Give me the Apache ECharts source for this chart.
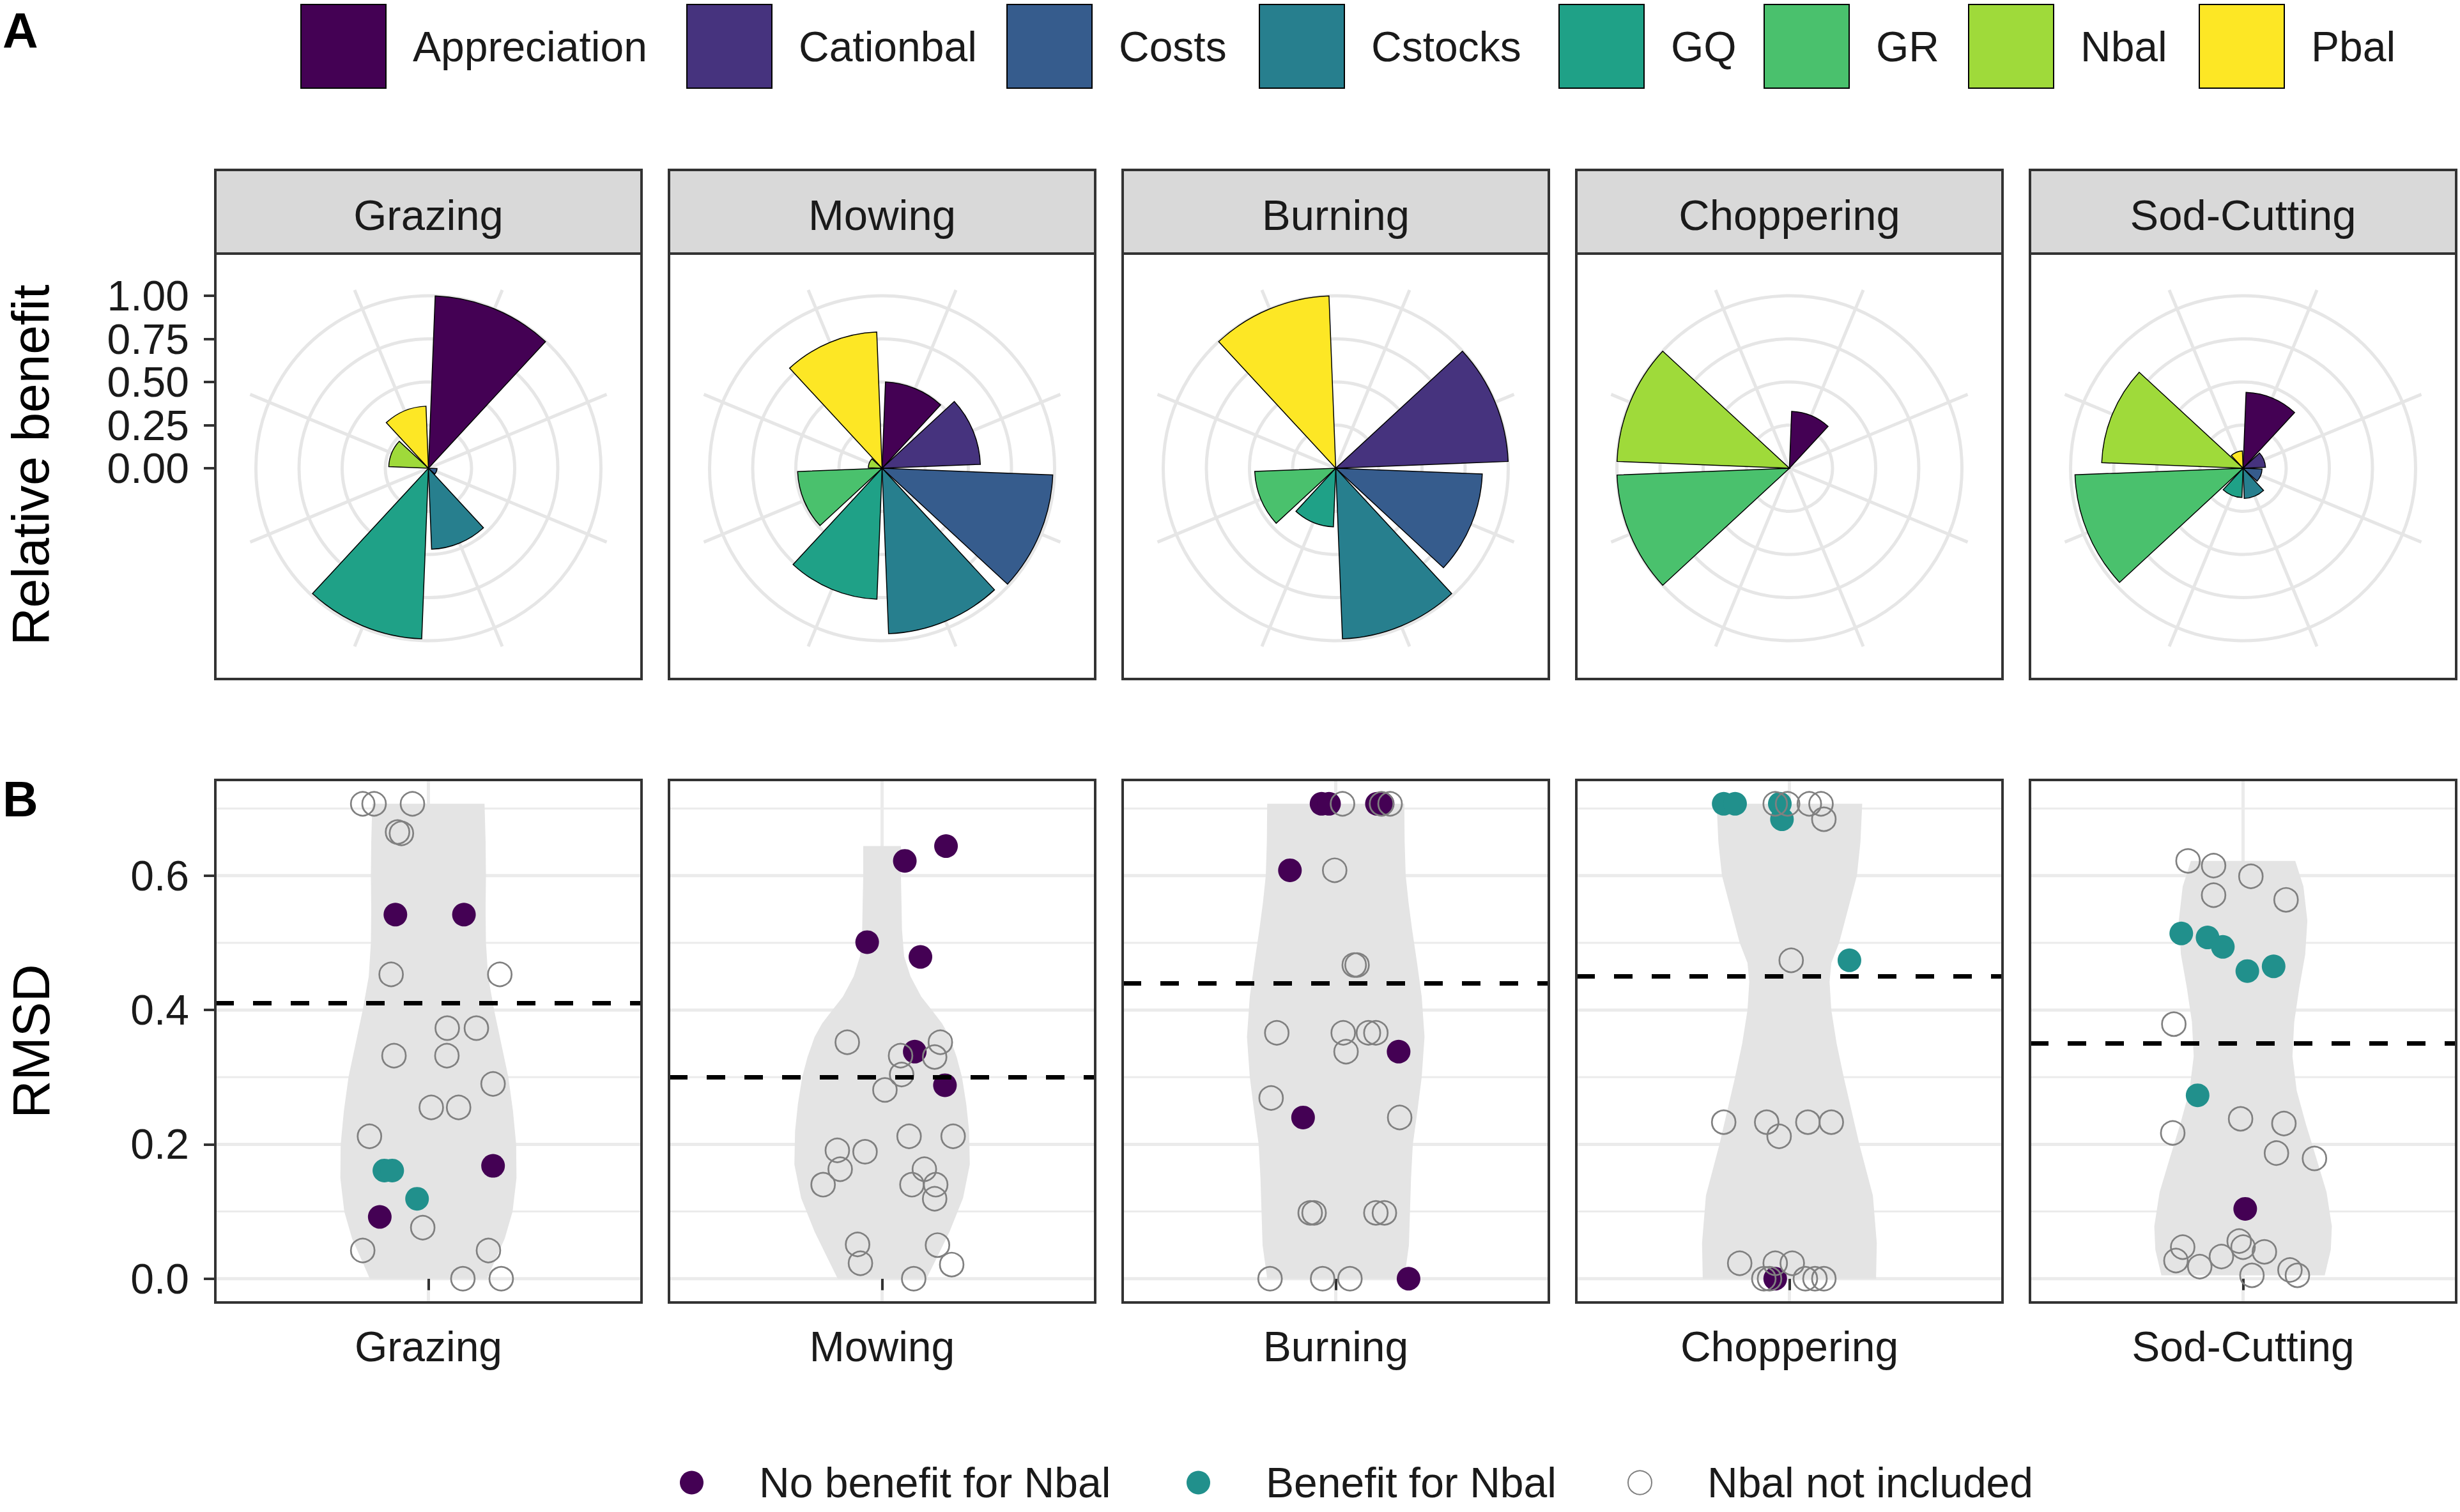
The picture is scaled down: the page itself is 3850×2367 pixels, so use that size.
<!DOCTYPE html>
<html><head><meta charset="utf-8">
<script src="https://cdn.jsdelivr.net/npm/echarts@6/dist/echarts.min.js"></script>
<style>html,body{margin:0;padding:0;background:#fff;}#c{width:3850px;height:2367px;}</style>
</head><body><div id="c"></div>
<script>
// ---------------- DATA ----------------
const panels = ['Grazing', 'Mowing', 'Burning', 'Choppering', 'Sod-Cutting'];
const criteria = ['Appreciation', 'Cationbal', 'Costs', 'Cstocks', 'GQ', 'GR', 'Nbal', 'Pbal'];
// Relative benefit per criterion (order as criteria)
const benefitGrazing    = [1.00, 0.00, 0.05, 0.47, 0.99, 0.00, 0.23, 0.36];
const benefitMowing     = [0.50, 0.57, 0.99, 0.96, 0.76, 0.49, 0.08, 0.79];
const benefitBurning    = [0.00, 1.00, 0.85, 0.99, 0.34, 0.47, 0.00, 1.00];
const benefitChoppering = [0.33, 0.00, 0.00, 0.00, 0.00, 1.00, 1.00, 0.00];
const benefitSodCutting = [0.44, 0.13, 0.11, 0.175, 0.17, 0.975, 0.82, 0.10];

// RMSD points [jittered x around category position 1, RMSD]
const grazingNoBenefit = [[0.907,0.542],[1.100,0.542],[1.182,0.168],[0.863,0.092]];
const grazingBenefit = [[0.876,0.161],[0.898,0.161],[0.968,0.119]];
const grazingNotIncluded = [[0.815,0.707],[0.847,0.707],[0.955,0.707],[0.913,0.665],[0.924,0.663],[0.895,0.453],[1.201,0.453],[1.053,0.373],[1.135,0.373],[0.903,0.332],[1.052,0.332],[1.182,0.290],[1.008,0.255],[1.085,0.255],[0.834,0.212],[0.984,0.076],[0.815,0.042],[1.169,0.042],[1.097,0.0],[1.205,0.0]];

const mowingNoBenefit = [[1.064,0.622],[1.180,0.644],[0.958,0.501],[1.108,0.479],[1.092,0.338],[1.177,0.288]];
const mowingBenefit = [];
const mowingNotIncluded = [[0.902,0.352],[1.164,0.352],[1.052,0.332],[1.148,0.330],[1.055,0.304],[1.008,0.281],[1.076,0.212],[1.200,0.212],[0.874,0.191],[0.952,0.189],[0.882,0.163],[0.834,0.140],[1.119,0.163],[1.084,0.140],[1.151,0.140],[1.148,0.119],[0.931,0.051],[0.939,0.023],[1.156,0.050],[1.196,0.021],[1.089,0.0]];

const burningNoBenefit = [[0.960,0.707],[0.981,0.707],[1.116,0.707],[1.132,0.707],[0.871,0.608],[1.177,0.338],[0.908,0.240],[1.205,0.0]];
const burningBenefit = [];
const burningNotIncluded = [[1.019,0.707],[1.129,0.707],[1.153,0.707],[0.997,0.608],[1.052,0.467],[1.060,0.467],[0.834,0.366],[1.021,0.366],[1.092,0.366],[1.113,0.366],[1.029,0.338],[0.818,0.269],[1.180,0.240],[0.928,0.098],[0.939,0.098],[1.113,0.098],[1.137,0.098],[0.815,0.0],[0.963,0.0],[1.040,0.0]];

const chopperingNoBenefit = [[0.960,0.0]];
const chopperingBenefit = [[0.815,0.707],[0.847,0.707],[0.973,0.707],[0.979,0.684],[1.169,0.474]];
const chopperingNotIncluded = [[0.960,0.707],[0.995,0.707],[1.056,0.707],[1.089,0.707],[1.097,0.684],[1.005,0.474],[0.815,0.233],[0.936,0.233],[0.971,0.212],[1.052,0.233],[1.118,0.233],[0.860,0.023],[0.960,0.023],[1.008,0.023],[0.928,0.0],[0.944,0.0],[1.045,0.0],[1.072,0.0],[1.097,0.0]];

const sodNoBenefit = [[1.006,0.104]];
const sodBenefit = [[0.826,0.514],[0.900,0.508],[0.943,0.494],[1.012,0.458],[1.086,0.465],[0.872,0.273]];
const sodNotIncluded = [[0.845,0.622],[0.917,0.615],[1.022,0.599],[0.917,0.571],[1.121,0.564],[0.805,0.379],[0.993,0.238],[1.115,0.231],[0.802,0.217],[1.094,0.187],[1.201,0.179],[0.830,0.047],[0.811,0.027],[0.878,0.018],[0.939,0.033],[0.989,0.056],[1.000,0.047],[1.060,0.040],[1.025,0.005],[1.132,0.013],[1.153,0.005]];

// Mean RMSD (dashed lines)
const meanRMSD = [0.414, 0.299, 0.438, 0.450, 0.350];

// Violin outlines: [RMSD, half-width in x units]
const violinGrazing = [[0,0.165],[0.03,0.19],[0.06,0.215],[0.1,0.237],[0.15,0.248],[0.2,0.247],[0.25,0.238],[0.3,0.225],[0.35,0.205],[0.4,0.185],[0.45,0.168],[0.5,0.162],[0.55,0.161],[0.6,0.162],[0.65,0.161],[0.707,0.158]];
const violinMowing = [[0,0.125],[0.03,0.153],[0.07,0.19],[0.12,0.228],[0.17,0.247],[0.22,0.245],[0.26,0.237],[0.3,0.225],[0.33,0.21],[0.36,0.19],[0.38,0.169],[0.40,0.14],[0.42,0.11],[0.45,0.08],[0.48,0.062],[0.52,0.056],[0.55,0.055],[0.6,0.053],[0.644,0.053]];
const violinBurning = [[0,0.193],[0.05,0.206],[0.1,0.209],[0.15,0.212],[0.2,0.217],[0.25,0.23],[0.3,0.242],[0.36,0.25],[0.42,0.242],[0.47,0.229],[0.52,0.215],[0.56,0.205],[0.6,0.197],[0.65,0.194],[0.707,0.193]];
const violinChoppering = [[0,0.244],[0.053,0.246],[0.124,0.235],[0.2,0.197],[0.25,0.175],[0.3,0.153],[0.35,0.133],[0.4,0.118],[0.442,0.113],[0.47,0.118],[0.5,0.14],[0.55,0.165],[0.6,0.19],[0.65,0.2],[0.707,0.205]];
const violinSod = [[0.005,0.23],[0.043,0.247],[0.078,0.25],[0.129,0.235],[0.18,0.206],[0.23,0.177],[0.28,0.151],[0.331,0.139],[0.382,0.144],[0.432,0.158],[0.483,0.175],[0.533,0.181],[0.584,0.17],[0.622,0.147]];

const rmsdMajorTicks = [0, 0.2, 0.4, 0.6];
const rmsdMinorTicks = [0.1, 0.3, 0.5, 0.7];
const categoryPos = 1;

const groupNames = ['No benefit for Nbal', 'Benefit for Nbal', 'Nbal not included'];

// ---------------- ASSEMBLY ----------------
const benefits = [benefitGrazing, benefitMowing, benefitBurning, benefitChoppering, benefitSodCutting];
const pointsNo = [grazingNoBenefit, mowingNoBenefit, burningNoBenefit, chopperingNoBenefit, sodNoBenefit];
const pointsYes = [grazingBenefit, mowingBenefit, burningBenefit, chopperingBenefit, sodBenefit];
const pointsNot = [grazingNotIncluded, mowingNotIncluded, burningNotIncluded, chopperingNotIncluded, sodNotIncluded];
const violins = [violinGrazing, violinMowing, violinBurning, violinChoppering, violinSod];

// styles / layout
const FONT = '"Liberation Sans", Arial, Helvetica, sans-serif';
const TXT = '#1a1a1a';
const GRIDC = '#ebebeb';
const POLGRID = '#e6e6e6';
const critColors = ['#440154', '#46337E', '#365C8D', '#277F8E', '#1FA187', '#4AC16D', '#9FDA3A', '#FDE725'];
const panelLeft = [337, 1047, 1757, 2467, 3177];
const panelW = 667;
const stripTop = 266, stripH = 131;
const polTop = 397, polH = 666;
const polCY = 733, polR = 270, spokeR = 302;
const botTop = 1221, botH = 818;
const legendLeft = [470, 1074, 1575, 1970, 2439, 2760, 3080, 3441];
const botLegendLeft = [1064, 1857, 2547];

const grid = [], xAxis = [], yAxis = [], polar = [], angleAxis = [], radiusAxis = [], series = [], legend = [], graphic = [];

panels.forEach((p, i) => {
  const cx = panelLeft[i] + panelW / 2;
  // ---- polar (A: spokes, B: rings + bars)
  polar.push({ center: [cx, polCY], radius: spokeR });
  polar.push({ center: [cx, polCY], radius: polR });
  angleAxis.push({ polarIndex: 2 * i, type: 'value', min: 0, max: 360, interval: 45, startAngle: 67.5,
    axisLine: { show: false }, axisTick: { show: false }, axisLabel: { show: false },
    splitLine: { show: true, lineStyle: { color: POLGRID, width: 5 } } });
  radiusAxis.push({ polarIndex: 2 * i, type: 'value', min: 0, max: 1,
    axisLine: { show: false }, axisTick: { show: false }, axisLabel: { show: false }, splitLine: { show: false } });
  angleAxis.push({ polarIndex: 2 * i + 1, type: 'category', data: criteria, startAngle: 90, boundaryGap: true,
    axisLine: { show: false }, axisTick: { show: false }, axisLabel: { show: false }, splitLine: { show: false } });
  radiusAxis.push({ polarIndex: 2 * i + 1, type: 'value', min: 0, max: 1, interval: 0.25,
    axisLine: { show: false }, axisTick: { show: false }, axisLabel: { show: false },
    splitLine: { show: true, lineStyle: { color: POLGRID, width: 5 } } });
  criteria.forEach((c, k) => {
    series.push({
      type: 'bar', coordinateSystem: 'polar', polarIndex: 2 * i + 1, name: c, stack: 'rose' + i,
      data: criteria.map((_, j) => (j === k && benefits[i][k] > 0) ? benefits[i][k] : '-'),
      barWidth: '90%', silent: true,
      itemStyle: { color: critColors[k], borderColor: '#000', borderWidth: 1.5 }
    });
  });

  // ---- cartesian (bottom)
  grid.push({ left: panelLeft[i], top: botTop, width: panelW, height: botH, show: false });
  xAxis.push({ gridIndex: i, type: 'value', min: 0.4, max: 1.6,
    axisLine: { show: false },
    axisTick: { show: true, customValues: [categoryPos], length: 18, lineStyle: { color: '#333', width: 4 } },
    axisLabel: { show: true, customValues: [categoryPos], formatter: () => p, fontSize: 66, color: TXT, fontFamily: FONT, margin: 36 },
    splitLine: { show: false } });
  yAxis.push(i === 0 ? {
    gridIndex: i, type: 'value', min: -0.0354, max: 0.7425,
    axisLine: { show: false },
    axisTick: { show: true, customValues: rmsdMajorTicks, length: 18, lineStyle: { color: '#333', width: 4 } },
    axisLabel: { show: true, customValues: rmsdMajorTicks, formatter: v => v.toFixed(1), fontSize: 66, color: TXT, fontFamily: FONT, margin: 41 },
    splitLine: { show: false }
  } : { gridIndex: i, type: 'value', min: -0.0354, max: 0.7425, show: false });

  const hline = (w) => (params, api) => {
    const cs = params.coordSys; const y = api.coord([api.value(0), api.value(1)])[1];
    return { type: 'line', shape: { x1: cs.x, y1: y, x2: cs.x + cs.width, y2: y }, style: { stroke: GRIDC, lineWidth: w } };
  };
  series.push({ type: 'custom', xAxisIndex: i, yAxisIndex: i, silent: true, z: 0,
    data: rmsdMinorTicks.map(v => [categoryPos, v]), renderItem: hline(3) });
  series.push({ type: 'custom', xAxisIndex: i, yAxisIndex: i, silent: true, z: 0,
    data: rmsdMajorTicks.map(v => [categoryPos, v]), renderItem: hline(5) });
  series.push({ type: 'custom', xAxisIndex: i, yAxisIndex: i, silent: true, z: 0,
    data: [[categoryPos, 0]], renderItem: (params, api) => {
      const cs = params.coordSys; const x = api.coord([api.value(0), api.value(1)])[0];
      return { type: 'line', shape: { x1: x, y1: cs.y, x2: x, y2: cs.y + cs.height }, style: { stroke: GRIDC, lineWidth: 5 } };
    } });
  // violin
  const prof = violins[i];
  series.push({ type: 'custom', xAxisIndex: i, yAxisIndex: i, silent: true, z: 1,
    data: prof.map(d => [categoryPos + d[1], d[0]]),
    renderItem: (params, api) => {
      if (params.dataIndex !== 0) return null;
      const pts = [];
      prof.forEach(d => pts.push(api.coord([categoryPos + d[1], d[0]])));
      for (let j = prof.length - 1; j >= 0; j--) pts.push(api.coord([categoryPos - prof[j][1], prof[j][0]]));
      return { type: 'polygon', shape: { points: pts }, style: { fill: '#e4e4e4', stroke: null } };
    },
    markLine: { silent: true, symbol: ['none', 'none'], label: { show: false }, animation: false,
      lineStyle: { color: '#000', width: 7, type: [29, 30] }, emphasis: { disabled: true },
      data: [{ yAxis: meanRMSD[i] }] }
  });
  series.push({ type: 'scatter', name: groupNames[0], xAxisIndex: i, yAxisIndex: i, data: pointsNo[i], symbolSize: 37, z: 3, silent: true,
    itemStyle: { color: '#440154', opacity: 1 } });
  series.push({ type: 'scatter', name: groupNames[1], xAxisIndex: i, yAxisIndex: i, data: pointsYes[i], symbolSize: 37, z: 3, silent: true,
    itemStyle: { color: '#21908C', opacity: 1 } });
  series.push({ type: 'scatter', name: groupNames[2], xAxisIndex: i, yAxisIndex: i, data: pointsNot[i], symbolSize: 37, z: 4, silent: true,
    itemStyle: { color: 'rgba(255,255,255,0)', borderColor: '#808080', borderWidth: 2.7, opacity: 1 } });

  // strips, borders
  graphic.push({ type: 'rect', z: 100, shape: { x: panelLeft[i], y: stripTop, width: panelW, height: stripH },
    style: { fill: '#d9d9d9', stroke: '#333', lineWidth: 4 } });
  graphic.push({ type: 'text', z: 101, x: cx, y: stripTop + 70,
    style: { text: p, fill: TXT, font: '67px ' + FONT, fontSize: 67, fontFamily: FONT, align: 'center', verticalAlign: 'middle', textAlign: 'center', textVerticalAlign: 'middle' } });
  graphic.push({ type: 'rect', z: 100, shape: { x: panelLeft[i], y: polTop, width: panelW, height: polH },
    style: { fill: 'none', stroke: '#333', lineWidth: 4 } });
  graphic.push({ type: 'rect', z: 100, shape: { x: panelLeft[i], y: botTop, width: panelW, height: botH },
    style: { fill: 'none', stroke: '#333', lineWidth: 4 } });
});

// relative benefit axis
grid.push({ left: panelLeft[0], top: polCY - polR, width: 10, height: polR, show: false });
xAxis.push({ gridIndex: 5, type: 'value', show: false });
yAxis.push({ gridIndex: 5, type: 'value', min: 0, max: 1, interval: 0.25,
  axisLine: { show: false },
  axisTick: { show: true, length: 18, lineStyle: { color: '#333', width: 4 } },
  axisLabel: { formatter: v => v.toFixed(2), fontSize: 66, color: TXT, fontFamily: FONT, margin: 41 },
  splitLine: { show: false } });

// legends
criteria.forEach((c, k) => {
  legend.push({ data: [c], left: legendLeft[k], top: 6, padding: 0, itemGap: 0, itemWidth: 133, itemHeight: 131,
    icon: 'rect', selectedMode: false,
    textStyle: { fontSize: 66, color: TXT, fontFamily: FONT, padding: [0, 0, 0, 37] } });
});
groupNames.forEach((g, k) => {
  legend.push({ data: [g], left: botLegendLeft[k], top: 2288, padding: 0, itemGap: 0, itemWidth: 37, itemHeight: 37,
    icon: 'circle', selectedMode: false,
    textStyle: { fontSize: 66, lineHeight: 60, color: TXT, fontFamily: FONT, padding: [0, 0, 0, 82] } });
});

// titles / panel letters
const txt = (t, x, y, size, bold, rot) => ({ type: 'text', z: 101, x, y, rotation: rot || 0,
  style: { text: t, fill: '#000', font: (bold ? 'bold ' : '') + size + 'px ' + FONT, fontSize: size, fontWeight: bold ? 'bold' : 'normal', fontFamily: FONT,
    lineHeight: size,
    align: rot ? 'center' : 'left', verticalAlign: 'middle', textAlign: rot ? 'center' : 'left', textVerticalAlign: 'middle' } });
graphic.push(txt('A', 4, 48, 77, true));
graphic.push(txt('B', 4, 1251, 77, true));
graphic.push(txt('Relative benefit', 47, 728, 82, false, Math.PI / 2));
graphic.push(txt('RMSD', 48, 1630, 82, false, Math.PI / 2));

const chart = echarts.init(document.getElementById('c'), null, { renderer: 'svg', width: 3850, height: 2367 });
chart.setOption({
  animation: false,
  backgroundColor: '#fff',
  textStyle: { fontFamily: FONT },
  grid, xAxis, yAxis, polar, angleAxis, radiusAxis, series, legend, graphic
});
</script></body></html>
